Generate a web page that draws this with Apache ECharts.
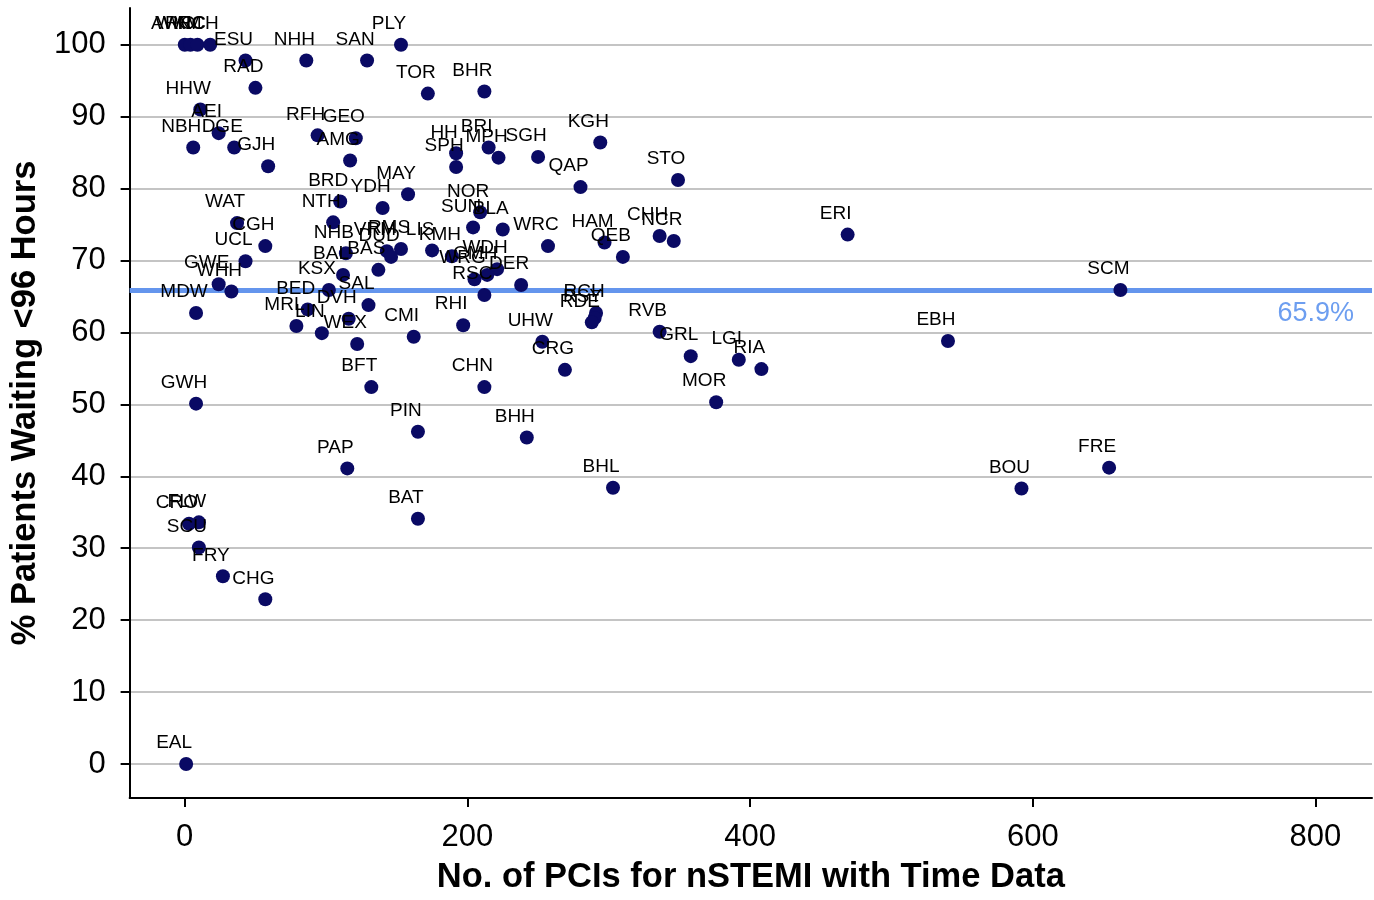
<!DOCTYPE html>
<html>
<head>
<meta charset="utf-8">
<script src="https://cdn.jsdelivr.net/npm/echarts@6/dist/echarts.min.js"></script>
<style>html,body{margin:0;padding:0;background:#fff;overflow:hidden}#c{width:1374px;height:900px;position:absolute;left:0;top:0}</style>
</head>
<body>
<div id="c"></div>
<script>
const names = ["AWC","WKM","RRC","NCH","ESU","NHH","SAN","PLY","RAD","TOR","BHR","HHW","AEI","NBH","DGE","GJH","RFH","GEO","AMG","HH","SPH","BRI","MPH","SGH","KGH","QAP","STO","MAY","BRD","YDH","NTH","NOR","SUN","BLA","WRC","HAM","QEB","CHH","NCR","ERI","WAT","CGH","UCL","GWE","WHH","MDW","NHB","BAL","VRM","RMS","DUD","BAS","LIS","KMH","WDH","WRG","GMH","RSC","DER","KSX","BED","SAL","DVH","MRL","LIN","WEX","CMI","RHI","UHW","CRG","BFT","CHN","PIN","BHH","PAP","BAT","BHL","RCH","RSY","RDE","RVB","GRL","LGI","RIA","MOR","EBH","SCM","FRE","BOU","GWH","CRO","FLW","SCU","FRY","CHG","EAL"];
const pcis = [0,4,9,18,43,86,129,153,50,172,212,11,24,6,35,59,94,121,117,192,192,215,222,250,294,280,349,158,110,140,105,209,204,225,257,297,310,336,346,469,37,57,43,24,33,8,114,112,143,153,146,137,175,189,221,205,214,212,238,102,87,130,116,79,97,122,162,197,253,269,132,212,165,242,115,165,303,291,290,288,336,358,392,408,376,540,662,654,592,8,3,10,10,27,57,1];
const pctWaiting = [100,100,100,100,97.8,97.8,97.8,100,94.0,93.2,93.5,91.0,87.7,85.7,85.7,83.1,87.4,87.0,83.9,84.9,83.0,85.7,84.3,84.4,86.4,80.2,81.2,79.2,78.2,77.3,75.3,76.7,74.6,74.3,72.0,72.5,70.5,73.4,72.7,73.6,75.2,72.0,69.9,66.7,65.7,62.7,71.0,68.0,71.3,71.6,70.5,68.7,71.4,70.6,68.8,67.4,68.0,65.2,66.6,65.9,63.2,63.8,61.9,60.9,59.9,58.4,59.4,61.0,58.7,54.8,52.4,52.4,46.2,45.4,41.1,34.1,38.4,62.7,62.0,61.4,60.1,56.7,56.2,54.9,50.3,58.8,65.9,41.2,38.3,50.1,33.4,33.6,30.1,26.1,22.9,0];
const xTicks = [0,200,400,600,800];
const yTicks = [0,10,20,30,40,50,60,70,80,90,100];
const overallPct = 65.9;

const points = names.map((n,i)=>({name:n, value:[pcis[i], pctWaiting[i]]}));
const chart = echarts.init(document.getElementById('c'), null, {renderer:'canvas', width:1374, height:900});
const FONT = 'Liberation Sans, Arial, sans-serif';
chart.setOption({
  animation:false,
  backgroundColor:'#fff',
  grid:{left:129,right:2,top:8,bottom:100,containLabel:false},
  xAxis:{
    type:'value', min:-39, max:840,
    name:'No. of PCIs for nSTEMI with Time Data', nameLocation:'middle', nameGap:62,
    nameTextStyle:{fontFamily:FONT,fontWeight:'bold',fontSize:34.5,color:'#000'},
    axisLine:{show:true,onZero:false,lineStyle:{color:'#000',width:2}},
    axisTick:{show:true,customValues:xTicks,length:9,lineStyle:{color:'#000',width:2}},
    axisLabel:{customValues:xTicks,margin:24,fontFamily:FONT,fontSize:31,color:'#000'},
    splitLine:{show:false}
  },
  yAxis:{
    type:'value', min:-4.72, max:105.1,
    name:'% Patients Waiting <96 Hours', nameLocation:'middle', nameGap:84,
    nameTextStyle:{fontFamily:FONT,fontWeight:'bold',fontSize:34.5,color:'#000'},
    axisLine:{show:true,onZero:false,lineStyle:{color:'#000',width:2}},
    axisTick:{show:true,customValues:yTicks,length:9,lineStyle:{color:'#000',width:2}},
    axisLabel:{customValues:yTicks,margin:24,fontFamily:FONT,fontSize:31,color:'#000'},
    splitLine:{show:true,lineStyle:{color:'#c4c4c4',width:2}}
  },
  series:[
    {type:'line',data:[],z:1,silent:true,
     markLine:{z:1,silent:true,symbol:'none',
       lineStyle:{color:'#6495ED',width:5,type:'solid'},
       label:{show:true,position:'insideEndBottom',formatter:overallPct.toFixed(1)+'%',
         fontFamily:FONT,fontSize:27,color:'#6d9ef0',distance:[18,10]},
       data:[{yAxis:overallPct}]}},
    {type:'scatter',z:10,data:points,symbol:'circle',symbolSize:14,
     itemStyle:{color:'#0a0a64',opacity:1},
     label:{show:true,position:'inside',offset:[-12,-21],formatter:p=>p.name,
       fontFamily:FONT,fontSize:19,color:'#000',textBorderWidth:0}}
  ]
});
</script>
</body>
</html>
